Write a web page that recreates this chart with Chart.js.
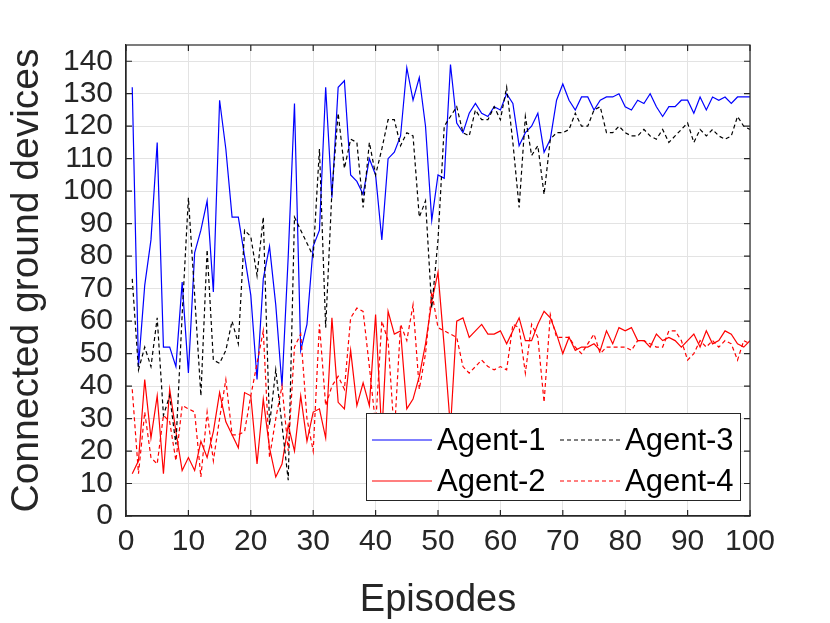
<!DOCTYPE html>
<html><head><meta charset="utf-8">
<script src="https://cdn.jsdelivr.net/npm/chart.js@4.4.0/dist/chart.umd.min.js"></script>
<style>html,body{margin:0;padding:0;background:#fff;}#wrap{width:830px;height:623px;position:relative;}</style>
</head><body><div id="wrap"><canvas id="c"></canvas></div>
<script>
const episodes = [1,2,3,4,5,6,7,8,9,10,11,12,13,14,15,16,17,18,19,20,21,22,23,24,25,26,27,28,29,30,31,32,33,34,35,36,37,38,39,40,41,42,43,44,45,46,47,48,49,50,51,52,53,54,55,56,57,58,59,60,61,62,63,64,65,66,67,68,69,70,71,72,73,74,75,76,77,78,79,80,81,82,83,84,85,86,87,88,89,90,91,92,93,94,95,96,97,98,99,100];
const agent1 = [132,46,71,85,115,52,52,46,72,44, 81,88,97,69,128,113,92,92,80,68, 42,73,83,65,40,80,127,51,59,83, 88,132,98,132,134,105,103,99,110,105, 85,110,112,117,138,128,135,120,91,105, 104,139,121,118,124,127,124,123,126,125, 130,127,114,118,120,124,112,116,128,133, 128,125,129,129,125,128,129,129,130,126, 125,128,127,130,126,123,126,126,128,128, 124,129,125,129,128,129,127,129,129,129];
const agent2 = [13,17,42,24,37,13,39,26,14,18, 14,23,18,26,38,29,25,21,38,37, 16,36,21,12,16,28,20,37,23,32, 33,24,61,35,33,51,34,41,34,62, 25,63,56,57,33,36,43,53,66,75, 52,27,60,61,55,57,59,56,56,57, 53,57,61,54,54,59,63,61,56,50, 55,51,52,52,53,51,57,53,58,57, 58,54,54,52,56,54,55,54,52,54, 56,52,57,53,54,57,56,53,52,54];
const agent3 = [73,45,52,46,61,31,37,22,62,98, 68,37,82,48,47,51,60,53,88,86, 74,92,28,45,28,11,92,88,84,80, 113,58,100,124,107,116,115,95,115,105, 113,122,122,114,118,117,92,97,64,85, 120,123,126,118,117,125,122,122,126,122, 132,115,95,123,111,114,99,116,118,118, 119,124,120,120,125,126,118,118,120,118, 117,117,119,117,116,119,115,117,119,121, 115,119,117,119,117,116,117,123,120,119];
const agent4 = [39,13,32,18,16,31,29,17,34,33, 32,12,32,17,30,42,25,25,26,37, 47,57,18,30,40,20,52,56,30,20, 59,34,40,43,39,61,64,63,46,28, 60,54,25,59,54,65,39,50,69,58, 57,56,55,46,44,46,48,46,45,46, 45,59,58,44,59,55,35,62,55,55, 55,52,50,53,56,50,52,52,52,52, 51,54,54,53,52,52,57,57,54,48, 50,54,52,54,52,54,53,48,54,53];
const seriesNames = ['Agent-1','Agent-2','Agent-3','Agent-4'];
const xTicks = [0,10,20,30,40,50,60,70,80,90,100];
const yTicks = [0,10,20,30,40,50,60,70,80,90,100,110,120,130,140];

const TXT = '#262626';
const FONT = "'Liberation Sans', Arial, Helvetica, sans-serif";
function pts(arr){ return episodes.map((e,i)=>({x:e,y:arr[i]})); }

const styles = [
  {color:'#0000ff', dash:[], order:4},
  {color:'#ff0000', dash:[], order:3},
  {color:'#000000', dash:[4,3], order:2},
  {color:'#ff0000', dash:[4,3], order:1}
];
const allData = [agent1, agent2, agent3, agent4];

const frame = {
  id:'frame',
  afterDatasetsDraw(chart){
    const {ctx, chartArea:a, scales:{x,y}} = chart;
    ctx.save();
    const L = a.right - 9, B = a.bottom - 15;
    const lx = a.left + 240, ly = a.top + 368;
    ctx.fillStyle = '#fff';
    ctx.fillRect(lx, ly, L-lx, B-ly);
    ctx.strokeStyle = TXT; ctx.lineWidth = 1;
    ctx.strokeRect(lx+0.5, ly+0.5, L-lx-1, B-ly-1);
    const rows = [ly+27, ly+68];
    const cols = [{l0:lx+6, l1:lx+66, t:lx+71},{l0:lx+194, l1:lx+257, t:lx+259}];
    ctx.font = "31px " + FONT;
    ctx.textBaseline = 'middle';
    const order = [[0,0,0],[1,0,1],[2,1,0],[3,1,1]];
    order.forEach(([si,ci,ri])=>{
      const s = styles[si], c = cols[ci], yy = rows[ri];
      ctx.strokeStyle = s.color; ctx.lineWidth = 1.2; ctx.setLineDash(s.dash);
      ctx.beginPath(); ctx.moveTo(c.l0, yy); ctx.lineTo(c.l1, yy); ctx.stroke();
      ctx.setLineDash([]);
      ctx.fillStyle = '#000'; ctx.fillText(seriesNames[si], c.t, yy+1);
    });
    ctx.strokeStyle = TXT; ctx.lineWidth = 1.2; ctx.setLineDash([]);
    ctx.strokeRect(a.left, a.top, a.right-a.left, a.bottom-a.top);
    ctx.beginPath();
    xTicks.forEach(v=>{ const px = x.getPixelForValue(v);
      ctx.moveTo(px, a.bottom); ctx.lineTo(px, a.bottom-6);
      ctx.moveTo(px, a.top); ctx.lineTo(px, a.top+6); });
    yTicks.forEach(v=>{ const py = y.getPixelForValue(v);
      ctx.moveTo(a.left, py); ctx.lineTo(a.left+6, py);
      ctx.moveTo(a.right, py); ctx.lineTo(a.right-6, py); });
    ctx.stroke();
    ctx.restore();
  }
};

new Chart(document.getElementById('c'), {
  type:'line',
  data:{ datasets: allData.map((d,i)=>({
    label: seriesNames[i], data: pts(d),
    borderColor: styles[i].color, borderWidth: 1.2, borderDash: styles[i].dash,
    pointRadius: 0, tension: 0, fill: false, order: styles[i].order
  }))},
  options:{
    responsive:true, maintainAspectRatio:false, animation:false,
    layout:{padding:{top:45, right:80, left:0, bottom:0}},
    plugins:{legend:{display:false}, tooltip:{enabled:false}},
    scales:{
      x:{type:'linear', min:0, max:100,
        afterBuildTicks: s => { s.ticks = xTicks.map(v=>({value:v})); },
        afterFit: s => { s.height = 107; },
        ticks:{stepSize:10, color:TXT, font:{family:FONT, size:30}, padding:8, maxRotation:0, autoSkip:false},
        grid:{color:'#e3e3e3', drawTicks:false},
        border:{color:TXT, width:1.2},
        title:{display:true, text:'Episodes', color:TXT, font:{family:FONT, size:38}, padding:{top:0,bottom:0}}
      },
      y:{type:'linear', min:0, max:145,
        afterBuildTicks: s => { s.ticks = yTicks.map(v=>({value:v})); },
        afterFit: s => { s.width = 126; },
        ticks:{stepSize:10, color:TXT, font:{family:FONT, size:30}, padding:13, autoSkip:false},
        grid:{color:'#e3e3e3', drawTicks:false},
        border:{color:TXT, width:1.2},
        title:{display:true, text:'Connected ground devices', color:TXT, font:{family:FONT, size:39}, padding:{top:4,bottom:0}}
      }
    }
  },
  plugins:[frame]
});
</script></body></html>
